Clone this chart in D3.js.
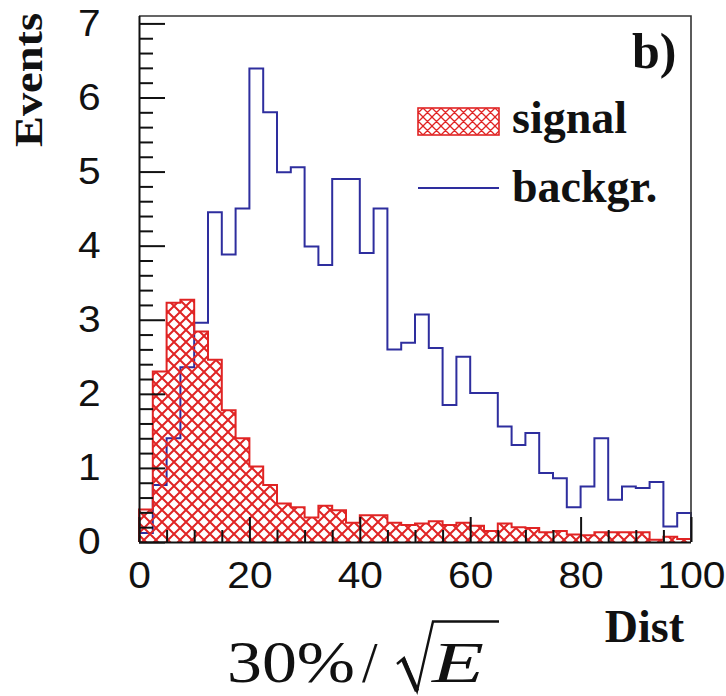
<!DOCTYPE html>
<html>
<head>
<meta charset="utf-8">
<script src="https://cdn.jsdelivr.net/npm/d3@7"></script>
<style>
  html, body { margin: 0; padding: 0; background: #fff; }
  svg { display: block; }
</style>
</head>
<body>
<svg id="chart" width="726" height="696"></svg>
<script>
// Lower edges of the 40 bins (width 2.5) of the Dist histogram
const binLow = [0, 2.5, 5, 7.5, 10, 12.5, 15, 17.5, 20, 22.5, 25, 27.5, 30, 32.5, 35, 37.5,
  40, 42.5, 45, 47.5, 50, 52.5, 55, 57.5, 60, 62.5, 65, 67.5, 70, 72.5, 75, 77.5,
  80, 82.5, 85, 87.5, 90, 92.5, 95, 97.5];
const binWidth = 2.5;

// Events per bin
const signal = [0.44, 2.30, 3.23, 3.27, 2.84, 2.46, 1.78, 1.40, 1.02, 0.77, 0.52, 0.47,
  0.33, 0.49, 0.43, 0.26, 0.36, 0.36, 0.26, 0.23, 0.25, 0.28, 0.23, 0.26, 0.22, 0.15,
  0.25, 0.20, 0.19, 0.13, 0.15, 0.10, 0.09, 0.13, 0.13, 0.13, 0.13, 0.03, 0.07, 0.04];
const backgr = [0.12, 0.77, 1.40, 2.36, 2.96, 4.45, 3.88, 4.50, 6.39, 5.80, 4.99, 5.06,
  3.99, 3.74, 4.90, 4.90, 3.90, 4.50, 2.60, 2.69, 3.07, 2.62, 1.85, 2.50, 2.01, 2.01,
  1.56, 1.31, 1.47, 0.93, 0.86, 0.47, 0.75, 1.40, 0.57, 0.75, 0.73, 0.81, 0.21, 0.39];

const xTicks = [0, 20, 40, 60, 80, 100];
const yTicks = [0, 1, 2, 3, 4, 5, 6, 7];

const svg = d3.select("#chart");
const W = 726, H = 696;
svg.append("rect").attr("width", W).attr("height", H).attr("fill", "#fff");

const padL = 139, padR = 691, padT = 16, padB = 542;
const x = d3.scaleLinear().domain([0, 100]).range([padL, padR]);
const y = d3.scaleLinear().domain([0, 7.1]).range([padB, padT]);

const RED = "#e02424";
const BLUE = "#2e2e9e";

// Cross-hatch fill for the signal histogram
const defs = svg.append("defs");
const P = 12;
const pat = defs.append("pattern")
  .attr("id", "xhatch").attr("patternUnits", "userSpaceOnUse")
  .attr("width", P).attr("height", P);
pat.append("path").attr("d", `M0,0L${P},${P}M0,${P}L${P},0M-1,1L1,-1M${P - 1},${P + 1}L${P + 1},${P - 1}`)
  .attr("stroke", RED).attr("stroke-width", 2).attr("fill", "none");
const patSmall = defs.append("pattern")
  .attr("id", "xhatchSmall").attr("patternUnits", "userSpaceOnUse")
  .attr("width", 9).attr("height", 9);
patSmall.append("path").attr("d", "M0,0L9,9M0,9L9,0M-1,1L1,-1M8,10L10,8")
  .attr("stroke", RED).attr("stroke-width", 1.3).attr("fill", "none");

// Step points: each bin's lower edge, then closing edge of the last bin
function stepPoints(vals) {
  const pts = binLow.map((b, i) => [b, vals[i]]);
  pts.push([binLow[binLow.length - 1] + binWidth, vals[vals.length - 1]]);
  return pts;
}

const stepLine = d3.line().x(d => x(d[0])).y(d => y(d[1])).curve(d3.curveStepAfter);
const stepArea = d3.area().x(d => x(d[0])).y0(y(0)).y1(d => y(d[1])).curve(d3.curveStepAfter);

function outline(vals) {
  const pts = stepPoints(vals);
  return [[pts[0][0], 0], ...pts, [pts[pts.length - 1][0], 0]];
}

// Background histogram (line)
svg.append("path").attr("d", stepLine(outline(backgr)))
  .attr("fill", "none").attr("stroke", BLUE).attr("stroke-width", 2);

// Signal histogram (hatched)
svg.append("path").attr("d", stepArea(stepPoints(signal)))
  .attr("fill", "url(#xhatch)").attr("stroke", "none");
svg.append("path").attr("d", stepLine(outline(signal)))
  .attr("fill", "none").attr("stroke", RED).attr("stroke-width", 2);

// Frame (top and right)
svg.append("path")
  .attr("d", `M${padL},${padT}H${padR}V${padB}`)
  .attr("fill", "none").attr("stroke", "#333").attr("stroke-width", 1.6);

const labelFont = "'Liberation Sans', Arial, Helvetica, sans-serif";
const serif = "'Liberation Serif', 'Times New Roman', serif";
const SX = 1.1;

// Y axis: major + minor ticks pointing inward
const yMinor = d3.range(0, 7.01, 0.2).filter(v => Math.abs(v - Math.round(v)) > 1e-6);
svg.append("g").attr("transform", `translate(${padL},0)`)
  .call(d3.axisLeft(y).tickValues(yMinor).tickSize(-14).tickFormat(""))
  .call(g => g.select(".domain").remove())
  .call(g => g.selectAll("line").attr("stroke", "#111").attr("stroke-width", 2));
const gy = svg.append("g").attr("transform", `translate(${padL},0)`)
  .call(d3.axisLeft(y).tickValues(yTicks).tickSize(-26).tickPadding(35).tickFormat(d3.format("d")));
gy.select(".domain").attr("d", `M0.5,${padT}V${padB}`).attr("stroke", "#111").attr("stroke-width", 2);
gy.selectAll("line").attr("stroke", "#111").attr("stroke-width", 2);
gy.selectAll("text").attr("font-family", labelFont).attr("font-size", 37).attr("fill", "#111")
  .attr("transform", `scale(${SX},1)`);

// X axis
const xMinor = d3.range(0, 100.1, 5).filter(v => v % 20 !== 0);
svg.append("g").attr("transform", `translate(0,${padB})`)
  .call(d3.axisBottom(x).tickValues(xMinor).tickSize(-12).tickFormat(""))
  .call(g => g.select(".domain").remove())
  .call(g => g.selectAll("line").attr("stroke", "#111").attr("stroke-width", 2));
const gx = svg.append("g").attr("transform", `translate(0,${padB})`)
  .call(d3.axisBottom(x).tickValues(xTicks).tickSize(-25).tickPadding(20).tickFormat(d3.format("d")));
gx.select(".domain").attr("d", `M${padL},0.5H${padR}`).attr("stroke", "#111").attr("stroke-width", 2);
gx.selectAll("line").attr("stroke", "#111").attr("stroke-width", 2);
gx.selectAll("text").attr("font-family", labelFont).attr("font-size", 37).attr("fill", "#111")
  .attr("transform", `scale(${SX},1)`);

// Axis titles
svg.append("text").text("Events")
  .attr("transform", "translate(42,147) rotate(-90)")
  .attr("font-family", serif).attr("font-weight", "bold").attr("font-size", 40)
  .attr("textLength", 134).attr("lengthAdjust", "spacingAndGlyphs").attr("fill", "#111");
svg.append("text").text("Dist")
  .attr("x", 684).attr("y", 642).attr("text-anchor", "end")
  .attr("font-family", serif).attr("font-weight", "bold").attr("font-size", 46).attr("fill", "#111");

// Panel tag
svg.append("text").text("b)")
  .attr("x", 632).attr("y", 68)
  .attr("font-family", serif).attr("font-weight", "bold").attr("font-size", 50).attr("fill", "#111");

// Legend
const legend = svg.append("g");
legend.append("rect").attr("x", 418).attr("y", 108).attr("width", 81).attr("height", 27)
  .attr("fill", "url(#xhatchSmall)").attr("stroke", RED).attr("stroke-width", 1.6);
legend.append("text").text("signal").attr("x", 512).attr("y", 133)
  .attr("font-family", serif).attr("font-weight", "bold").attr("font-size", 46).attr("fill", "#111");
legend.append("line").attr("x1", 418).attr("x2", 499).attr("y1", 188).attr("y2", 188)
  .attr("stroke", BLUE).attr("stroke-width", 2);
legend.append("text").text("backgr.").attr("x", 512).attr("y", 202)
  .attr("font-family", serif).attr("font-weight", "bold").attr("font-size", 46).attr("fill", "#111");

// Resolution caption: 30% / sqrt(E)
const cap = svg.append("g");
cap.append("text").text("30%").attr("x", 227).attr("y", 682)
  .attr("font-family", serif).attr("font-size", 60).attr("fill", "#111")
  .attr("textLength", 128).attr("lengthAdjust", "spacingAndGlyphs");
cap.append("text").text("/").attr("x", 362).attr("y", 682)
  .attr("font-family", serif).attr("font-size", 56).attr("fill", "#111");
cap.append("path").attr("d", "M397,664L404,658L417,691L433,621.5H499")
  .attr("fill", "none").attr("stroke", "#111").attr("stroke-width", 2.4).attr("stroke-linejoin", "miter");
cap.append("path").attr("d", "M403,659L417,691").attr("stroke", "#111").attr("stroke-width", 4.5);
cap.append("text").text("E").attr("x", 432).attr("y", 682)
  .attr("font-family", serif).attr("font-style", "italic").attr("font-size", 58).attr("fill", "#111")
  .attr("textLength", 52).attr("lengthAdjust", "spacingAndGlyphs");
</script>
</body>
</html>
